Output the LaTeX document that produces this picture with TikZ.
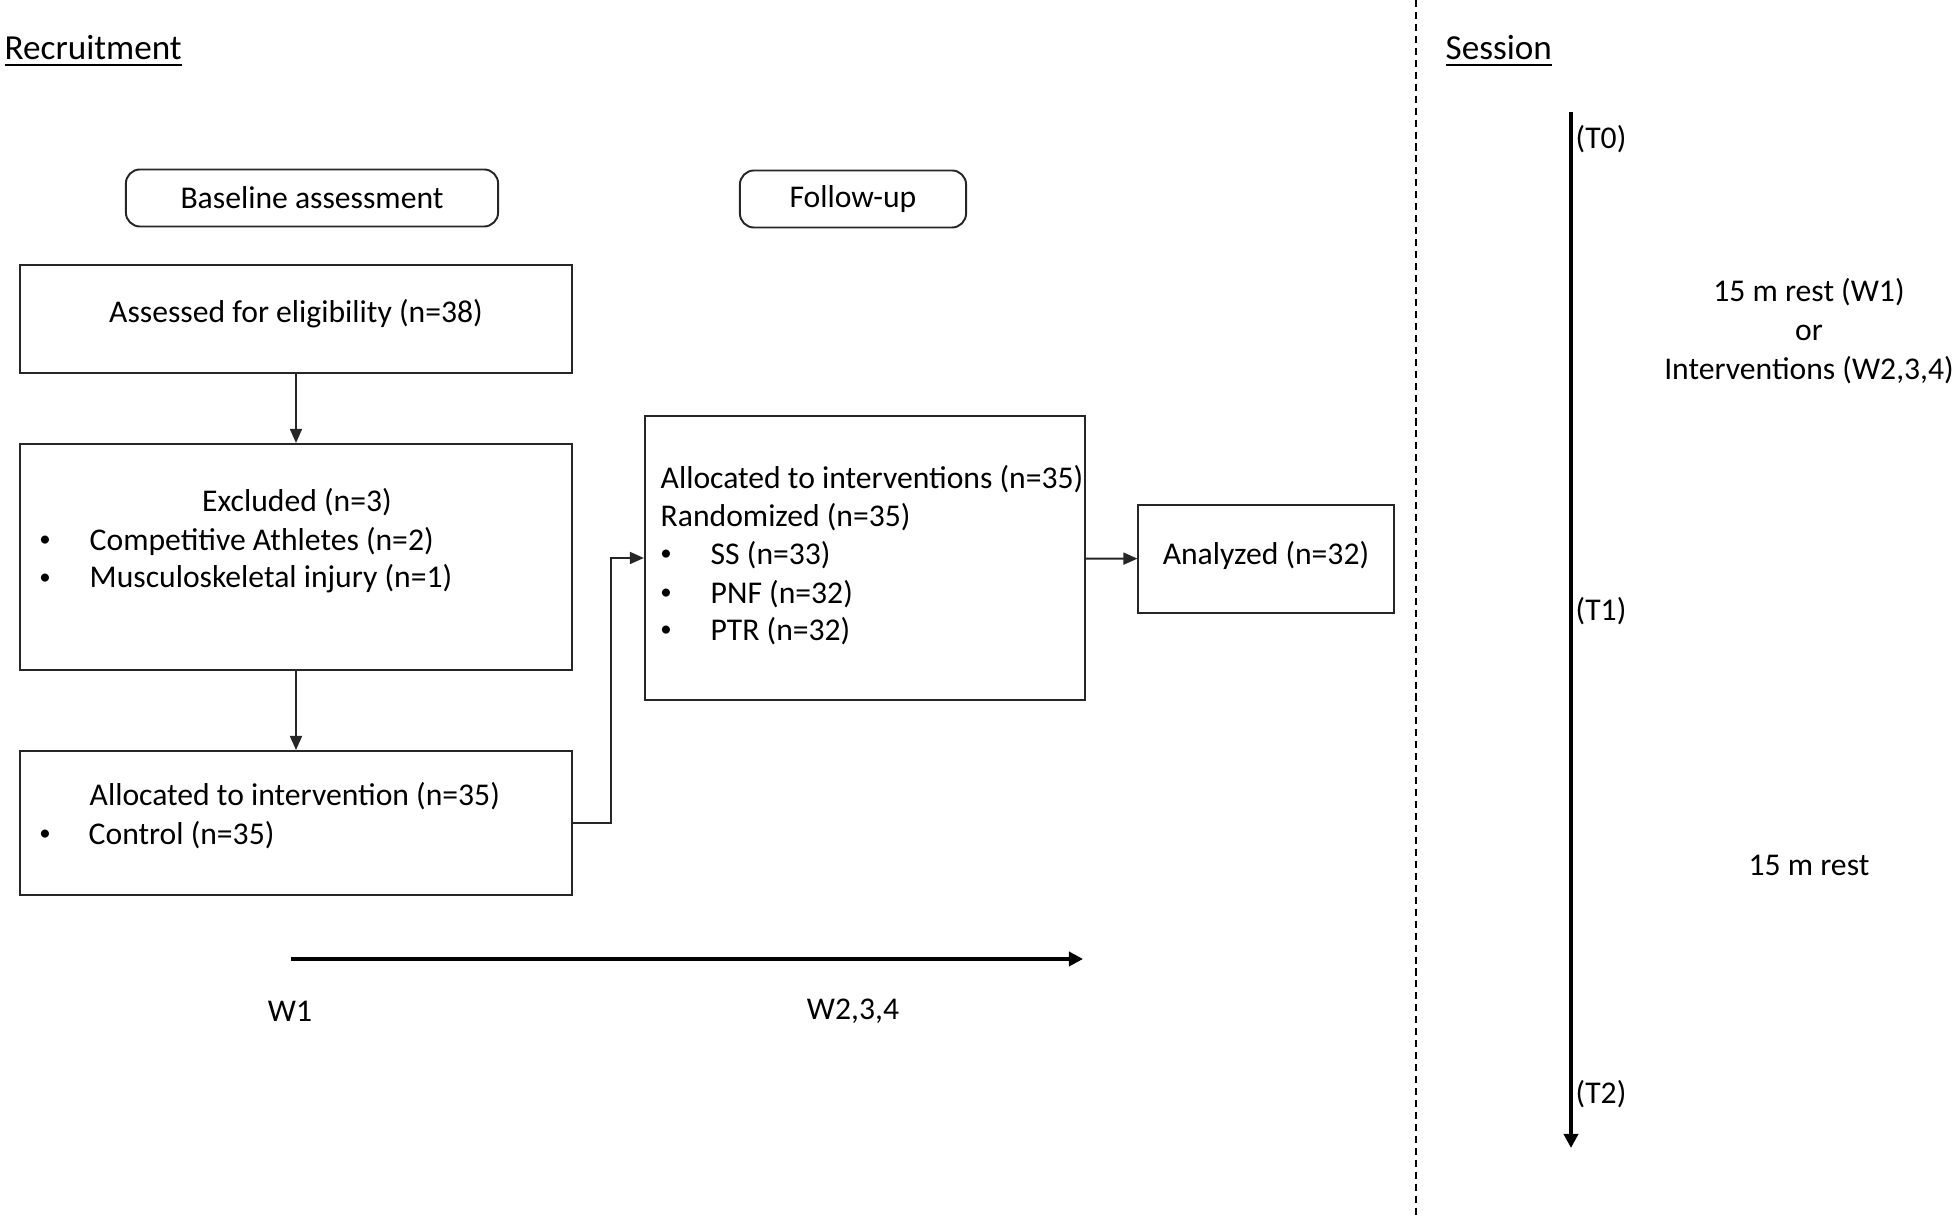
\documentclass[tikz,border=0pt]{standalone}
\usepackage{fontspec}
\setmainfont{Carlito}
\usetikzlibrary{arrows.meta,positioning}
\begin{document}
\begin{tikzpicture}[x=0.01cm,y=-0.01cm,font=\fontsize{9}{11}\selectfont,
	box/.style={draw=black!85,line width=0.55pt,inner sep=0pt},
	phase/.style={box,rounded corners=4pt},
	txt/.style={inner sep=0pt,anchor=west},
	dot/.style={inner sep=0pt,font=\fontsize{6.5}{8}\selectfont},
	head/.style={inner sep=0pt,anchor=base west,font=\fontsize{10}{12}\selectfont},
	link/.style={draw=black!85,line width=0.55pt,-{Triangle[length=4pt,width=3.4pt]}},
	axis/.style={line width=1.2pt,-{Triangle[length=4pt,width=4pt]}}]
	\useasboundingbox (0,0) rectangle (1959,1216);
	\draw[line width=0.4pt,dash pattern=on 2pt off 1.4pt] (1416,0)--(1416,1216);
	\node[head] (recr) at (4,60) {\underline{Recruitment}};
	\node[head] (sess) at (1445,60) {\underline{Session}};
	% phases
	\node[phase,minimum width=3.72cm,minimum height=0.57cm] (base) at (312,198) {Baseline assessment};
	\node[phase,minimum width=2.26cm,minimum height=0.57cm] (follow) at (853,199) {Follow-up};
	% boxes
	\node[box,minimum width=5.52cm,minimum height=1.08cm] (elig) at (296,319) {};
	\node[box,minimum width=5.51cm,minimum height=2.26cm] (excl) at (296,557) {};
	\node[box,minimum width=5.51cm,minimum height=1.44cm] (ctrl) at (296,823) {};
	\node[box,minimum width=4.40cm,minimum height=2.83cm] (alloc) at (865,558) {};
	\node[box,minimum width=2.55cm,minimum height=1.08cm] (anal) at (1266,559) {};
	% texts
	\node[inner sep=0pt] (eligt) at (296,314) {Assessed for eligibility (n=38)};
	\node[inner sep=0pt] (exclt) at (297,502) {Excluded (n=3)};
	\node[dot] (b1) at (45,541) {\textbullet};
	\node[txt] (compt) at (89,541) {Competitive Athletes (n=2)};
	\node[dot] (b2) at (45,579) {\textbullet};
	\node[txt] (injt) at (89,579) {Musculoskeletal injury (n=1)};
	\node[txt] (ctrlt) at (89,796) {Allocated to intervention (n=35)};
	\node[dot] (b3) at (45,835) {\textbullet};
	\node[txt] (contt) at (88,835) {Control (n=35)};
	\node[txt] (allt) at (660,479) {Allocated to interventions (n=35)};
	\node[txt] (randt) at (660,517) {Randomized (n=35)};
	\node[dot] (b4) at (666,555) {\textbullet};
	\node[txt] (sst) at (710,555) {SS (n=33)};
	\node[dot] (b5) at (666,594) {\textbullet};
	\node[txt] (pnft) at (710,594) {PNF (n=32)};
	\node[dot] (b6) at (666,631) {\textbullet};
	\node[txt] (ptrt) at (710,631) {PTR (n=32)};
	\node[inner sep=0pt] (analt) at (1266,555) {Analyzed (n=32)};
	% connectors
	\draw[link] (elig)--(excl);
	\draw[link] (excl)--(ctrl);
	\draw[link] (ctrl.east)--++(38,0)|-(alloc.west);
	\draw[link] (alloc)--(anal);
	% weeks
	\coordinate (w1) at (291,959);
	\coordinate (w4) at (1083,959);
	\draw[axis] (w1)--(w4);
	\node[inner sep=0pt] (w1t) at (290,1011) {W1};
	\node[inner sep=0pt] (w4t) at (853,1011) {W2,3,4};
	% session
	\coordinate (t0) at (1571,112);
	\coordinate (t3) at (1571,1148);
	\draw[axis] (t0)--(t3);
	\node[txt] (t0t) at (1575,139) {(T0)};
	\node[txt] (t1t) at (1575,611) {(T1)};
	\node[txt] (t2t) at (1575,1094) {(T2)};
	\node[inner sep=0pt,align=center] (rest1) at (1809,331) {15 m rest (W1)\\or\\Interventions (W2,3,4)};
	\node[inner sep=0pt] (rest2) at (1809,865) {15 m rest};
\end{tikzpicture}
\end{document}
